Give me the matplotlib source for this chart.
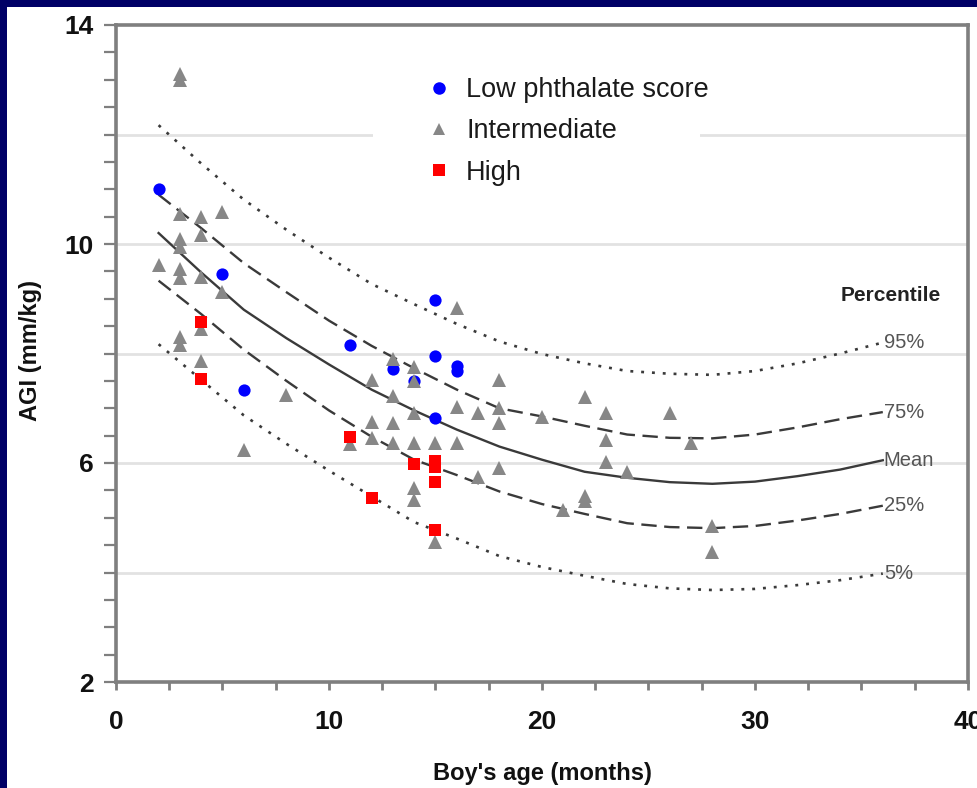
import matplotlib
matplotlib.use("Agg")
import matplotlib.pyplot as plt
from matplotlib.patches import Rectangle
from matplotlib.lines import Line2D
from matplotlib.ticker import MultipleLocator

plt.rcParams['font.family'] = ['Liberation Sans', 'DejaVu Sans']

# ---------------- data ----------------
low_age = [2, 5, 6, 11, 13, 14, 15, 15, 15, 16, 16]
low_agi = [11.0, 9.45, 7.33, 8.16, 7.72, 7.5, 8.98, 7.95, 6.82, 7.78, 7.68]

mid_age = [3, 3, 3, 4, 5, 3, 3, 4, 2, 3, 3, 4, 5, 4, 3, 3, 4, 6, 8, 11,
           12, 12, 12, 13, 13, 13, 13, 14, 14, 14, 14, 14, 14, 15, 15,
           16, 16, 16, 17, 17, 18, 18, 18, 18, 20, 21, 22, 22, 22,
           23, 23, 23, 24, 26, 27, 28, 28]
mid_agi = [13.0, 13.1, 10.55, 10.5, 10.58, 10.1, 9.95, 10.16, 9.62, 9.55, 9.37, 9.4, 9.12, 8.45, 8.3, 8.15, 7.87, 6.24, 7.24, 6.35,
           7.52, 6.75, 6.46, 7.9, 7.22, 6.73, 6.37, 7.75, 7.5, 6.91, 6.37, 5.54, 5.32, 6.37, 4.56,
           8.83, 7.02, 6.37, 6.91, 5.74, 7.52, 7.0, 6.73, 5.91, 6.84, 5.14, 7.2, 5.4, 5.3,
           6.91, 6.42, 6.02, 5.84, 6.91, 6.37, 4.85, 4.37]

high_age = [4, 4, 11, 12, 14, 15, 15, 15, 15]
high_agi = [8.58, 7.53, 6.47, 5.36, 5.98, 6.04, 5.93, 5.65, 4.78]

curve_age = [2, 4, 6, 8, 10, 12, 14, 16, 18, 20, 22, 24, 26, 28, 30, 32, 34, 36]
p95 = [12.17, 11.47, 10.81, 10.26, 9.75, 9.27, 8.90, 8.54, 8.22, 7.99, 7.82, 7.68, 7.63, 7.61, 7.68, 7.82, 8.00, 8.20]
p75 = [10.90, 10.29, 9.65, 9.12, 8.60, 8.14, 7.73, 7.34, 7.00, 6.85, 6.68, 6.52, 6.46, 6.45, 6.52, 6.65, 6.80, 6.93]
mean = [10.20, 9.48, 8.80, 8.28, 7.80, 7.34, 6.96, 6.61, 6.30, 6.06, 5.84, 5.73, 5.65, 5.62, 5.66, 5.76, 5.88, 6.05]
p25 = [9.33, 8.72, 8.07, 7.50, 6.96, 6.48, 6.06, 5.78, 5.48, 5.25, 5.07, 4.90, 4.83, 4.81, 4.85, 4.95, 5.07, 5.22]
p5 = [8.17, 7.52, 6.87, 6.35, 5.86, 5.39, 4.92, 4.62, 4.30, 4.10, 3.94, 3.79, 3.71, 3.68, 3.70, 3.77, 3.86, 3.98]
curve_labels = ['95%', '75%', 'Mean', '25%', '5%']

x_ticks = [0, 10, 20, 30, 40]
y_ticks = [2, 6, 10, 14]
grid_levels = [4, 6, 8, 10, 12]

# ---------------- figure ----------------
fig = plt.figure(figsize=(9.78, 7.88), dpi=100, facecolor='#000066')
fig.add_artist(Rectangle((7 / 978, 0), 1, (788 - 7) / 788, transform=fig.transFigure,
                         facecolor='white', edgecolor='none', zorder=-10))

ax = fig.add_axes([116 / 978, 1 - 682 / 788, (968 - 116) / 978, (682 - 25) / 788])
ax.set_facecolor('white')
ax.set_xlim(0, 40)
ax.set_ylim(2, 14)

# gridlines
for g in grid_levels:
    ax.axhline(g, color='#e2e2e2', lw=2.0, zorder=0.5)
# white patch behind legend (hides the gridline there)
ax.add_patch(Rectangle((0.3016, 0.80), 0.384, 0.08, transform=ax.transAxes,
                       facecolor='white', edgecolor='none', zorder=0.8))

# percentile curves
lc = '#3a3a3a'
dot = (0, (1.1, 3.0))
dash = (0, (6.5, 3.2))
styles = [dot, dash, '-', dash, dot]
widths = [1.9, 1.7, 1.7, 1.7, 1.9]
for vals, ls, lw, lab in zip([p95, p75, mean, p25, p5], styles, widths, curve_labels):
    ax.plot(curve_age, vals, color=lc, lw=lw, linestyle=ls, zorder=2)
    ax.text(curve_age[-1] + 0.05, vals[-1], lab, ha='left', va='center',
            fontsize=14.5, color='#555555', zorder=3)

ax.text(0.85, 0.589, 'Percentile', transform=ax.transAxes, ha='left', va='center',
        fontsize=15, fontweight='bold', color='#222222')

# points
ax.plot(low_age, low_agi, linestyle='none', marker='o', markersize=8.8,
        color='#0000ff', markeredgewidth=0, zorder=3)
ax.plot(mid_age, mid_agi, linestyle='none', marker='^', markersize=9.5,
        color='#878787', markeredgewidth=0, zorder=4)
ax.plot(high_age, high_agi, linestyle='none', marker='s', markersize=9.2,
        color='#ff0000', markeredgewidth=0, zorder=5)

# legend
handles = [
    Line2D([], [], linestyle='none', marker='o', markersize=9, color='#0000ff', markeredgewidth=0),
    Line2D([], [], linestyle='none', marker='^', markersize=9, color='#878787', markeredgewidth=0),
    Line2D([], [], linestyle='none', marker='s', markersize=8.5, color='#ff0000', markeredgewidth=0),
]
leg = ax.legend(handles, ['Low phthalate score', 'Intermediate', 'High'],
                loc='upper left', bbox_to_anchor=((431 - 116) / 852, (682 - 77) / 657),
                frameon=False, fontsize=19.5, handlelength=0.6, handletextpad=0.7,
                labelspacing=0.57, borderpad=0, borderaxespad=0)
for t in leg.get_texts():
    t.set_color('#1a1a1a')

# spines
for s in ax.spines.values():
    s.set_color('#7f7f7f')
    s.set_linewidth(2.6)

# ticks
ax.xaxis.set_major_locator(MultipleLocator(10))
ax.xaxis.set_minor_locator(MultipleLocator(2.5))
ax.yaxis.set_major_locator(MultipleLocator(4))
ax.yaxis.set_minor_locator(MultipleLocator(0.5))
ax.set_xticks(x_ticks)
ax.set_yticks(y_ticks)
ax.tick_params(axis='x', which='both', direction='out', length=6, width=2, color='#7f7f7f')
ax.tick_params(axis='y', which='both', direction='out', length=9, width=1.6, color='#7f7f7f')
ax.tick_params(axis='x', which='major', pad=14, labelsize=19)
ax.tick_params(axis='y', which='major', pad=7, labelsize=19)
for lbl in ax.get_xticklabels() + ax.get_yticklabels():
    lbl.set_fontweight('bold')
    lbl.set_color('#111111')

ax.set_xlabel("Boy's age (months)", fontsize=17, fontweight='bold', color='#111111')
ax.set_ylabel('AGI (mm/kg)', fontsize=17, fontweight='bold', color='#111111')
ax.xaxis.set_label_coords(0.5, -0.122)
ax.yaxis.set_label_coords(-0.087, 0.505)

fig.savefig('out.png', dpi=100, facecolor=fig.get_facecolor())
